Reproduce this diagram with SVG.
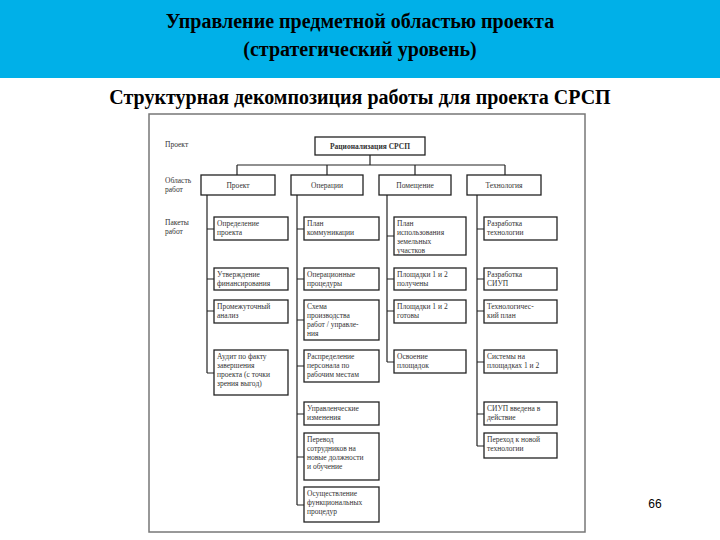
<svg xmlns="http://www.w3.org/2000/svg" width="720" height="540" viewBox="0 0 720 540">
<style>
.t{font-family:"Liberation Serif",serif;font-weight:bold;font-size:20px;text-anchor:middle}
.b{fill:#fff;stroke:#222;stroke-width:1.3}
.s{font-family:"Liberation Serif",serif;font-size:7.5px;fill:#333}
.c{text-anchor:middle}
.l{stroke:#222;stroke-width:1.2;fill:none}
</style>
<rect x="0" y="0" width="720" height="540" fill="#fff"/>
<rect x="0" y="0" width="720" height="78" fill="#00b0e8"/>
<text class="t" x="360" y="28">Управление предметной областью проекта</text>
<text class="t" x="360" y="56">(стратегический уровень)</text>
<text class="t" x="360" y="104">Структурная декомпозиция работы для проекта СРСП</text>
<rect x="149" y="114" width="436" height="418" fill="#fff" stroke="#777" stroke-width="1.5"/>
<g id="labels" class="s">
<text x="165" y="147">Проект</text>
<text x="165" y="183">Область</text><text x="165" y="192">работ</text>
<text x="165" y="225">Пакеты</text><text x="165" y="234">работ</text>
</g>
<g id="connectors" class="l">
<path d="M370 155V165M237 165H505M237 165V175M327 165V175M415 165V175M505 165V175"/>
<path d="M207 195V373M207 229H214M207 279H214M207 311H214M207 373H214"/>
<path d="M297 195V505M297 229H304M297 279H304M297 320H304M297 366H304M297 414H304M297 457H304M297 505H304"/>
<path d="M387 195V362M387 236H394M387 279H394M387 311H394M387 362H394"/>
<path d="M477 195V446M477 229H484M477 279H484M477 311H484M477 362H484M477 414H484M477 446H484"/>
</g>
<g id="root"><rect class="b" x="315" y="137" width="110" height="18"/><text class="s c" x="370" y="149" font-weight="bold">Рационализация СРСП</text></g>
<g id="l2-1"><rect class="b" x="201" y="175" width="74" height="20"/><text class="s c" x="238" y="188">Проект</text></g>
<g id="l2-2"><rect class="b" x="291" y="175" width="72" height="20"/><text class="s c" x="327" y="188">Операции</text></g>
<g id="l2-3"><rect class="b" x="379" y="175" width="72" height="20"/><text class="s c" x="415" y="188">Помещение</text></g>
<g id="l2-4"><rect class="b" x="467" y="175" width="74" height="20"/><text class="s c" x="504" y="188">Технология</text></g>
<g class="s">
<g id="p1"><rect class="b" x="214" y="217" width="74" height="23"/><text x="217" y="226">Определение</text><text x="217" y="235">проекта</text></g>
<g id="p2"><rect class="b" x="214" y="268" width="74" height="22"/><text x="217" y="277">Утверждение</text><text x="217" y="286">финансирования</text></g>
<g id="p3"><rect class="b" x="214" y="300" width="74" height="23"/><text x="217" y="309">Промежуточный</text><text x="217" y="318">анализ</text></g>
<g id="p4"><rect class="b" x="214" y="350" width="74" height="45"/><text x="217" y="359">Аудит по факту</text><text x="217" y="368">завершения</text><text x="217" y="377">проекта (с точки</text><text x="217" y="386">зрения выгод)</text></g>
<g id="o1"><rect class="b" x="304" y="217" width="75" height="23"/><text x="307" y="226">План</text><text x="307" y="235">коммуникации</text></g>
<g id="o2"><rect class="b" x="304" y="268" width="75" height="22"/><text x="307" y="277">Операционные</text><text x="307" y="286">процедуры</text></g>
<g id="o3"><rect class="b" x="304" y="300" width="75" height="40"/><text x="307" y="309">Схема</text><text x="307" y="318">производства</text><text x="307" y="327">работ / управле-</text><text x="307" y="336">ния</text></g>
<g id="o4"><rect class="b" x="304" y="350" width="75" height="32"/><text x="307" y="359">Распределение</text><text x="307" y="368">персонала по</text><text x="307" y="377">рабочим местам</text></g>
<g id="o5"><rect class="b" x="304" y="402" width="75" height="23"/><text x="307" y="411">Управленческие</text><text x="307" y="420">изменения</text></g>
<g id="o6"><rect class="b" x="304" y="433" width="75" height="47"/><text x="307" y="442">Перевод</text><text x="307" y="451">сотрудников на</text><text x="307" y="460">новые должности</text><text x="307" y="469">и обучение</text></g>
<g id="o7"><rect class="b" x="304" y="487" width="75" height="35"/><text x="307" y="496">Осуществление</text><text x="307" y="505">функциональных</text><text x="307" y="514">процедур</text></g>
<g id="m1"><rect class="b" x="394" y="217" width="72" height="38"/><text x="397" y="226">План</text><text x="397" y="235">использования</text><text x="397" y="244">земельных</text><text x="397" y="253">участков</text></g>
<g id="m2"><rect class="b" x="394" y="268" width="72" height="22"/><text x="397" y="277">Площадки 1 и 2</text><text x="397" y="286">получены</text></g>
<g id="m3"><rect class="b" x="394" y="300" width="72" height="23"/><text x="397" y="309">Площадки 1 и 2</text><text x="397" y="318">готовы</text></g>
<g id="m4"><rect class="b" x="394" y="350" width="72" height="23"/><text x="397" y="359">Освоение</text><text x="397" y="368">площадок</text></g>
<g id="t1"><rect class="b" x="484" y="217" width="73" height="23"/><text x="487" y="226">Разработка</text><text x="487" y="235">технологии</text></g>
<g id="t2"><rect class="b" x="484" y="268" width="73" height="22"/><text x="487" y="277">Разработка</text><text x="487" y="286">СИУП</text></g>
<g id="t3"><rect class="b" x="484" y="300" width="73" height="23"/><text x="487" y="309">Технологичес-</text><text x="487" y="318">кий план</text></g>
<g id="t4"><rect class="b" x="484" y="350" width="73" height="23"/><text x="487" y="359">Системы на</text><text x="487" y="368">площадках 1 и 2</text></g>
<g id="t5"><rect class="b" x="484" y="402" width="73" height="23"/><text x="487" y="411">СИУП введена в</text><text x="487" y="420">действие</text></g>
<g id="t6"><rect class="b" x="484" y="433" width="73" height="25"/><text x="487" y="442">Переход к новой</text><text x="487" y="451">технологии</text></g>
</g>
<text x="655" y="508" font-family="Liberation Sans,sans-serif" font-size="12" text-anchor="middle">66</text>
</svg>
